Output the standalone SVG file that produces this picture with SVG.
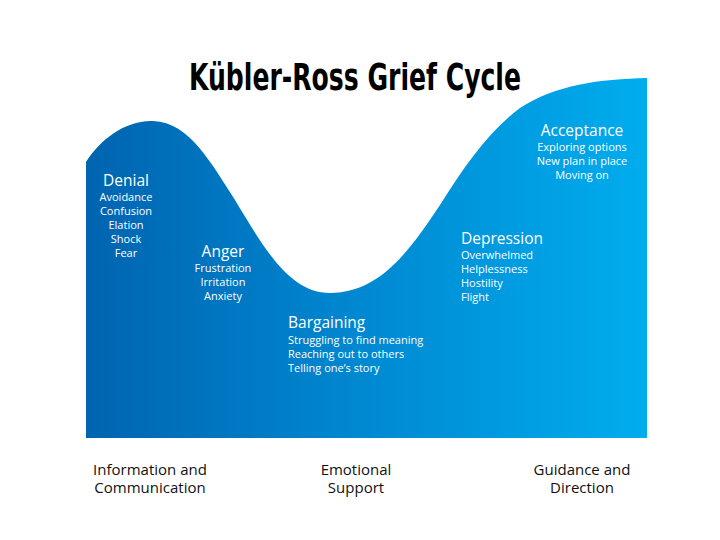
<svg xmlns="http://www.w3.org/2000/svg" width="720" height="540" viewBox="0 0 720 540">
<defs>
<linearGradient id="g" x1="86" y1="0" x2="647" y2="0" gradientUnits="userSpaceOnUse">
<stop offset="0" stop-color="#0064B0"/>
<stop offset="0.5" stop-color="#0089D2"/>
<stop offset="1" stop-color="#00ADEE"/>
</linearGradient>
<style>
.t{font-family:"Open Sans","Noto Sans",sans-serif;fill:#fff}
.h{font-size:15.5px}
.s{font-size:11px}
.b{font-family:"Open Sans","Noto Sans",sans-serif;fill:#111;font-size:15px}
.c{text-anchor:middle}
</style>
</defs>
<rect width="720" height="540" fill="#fff"/>
<text x="355" y="90" text-anchor="middle" font-family="'DejaVu Sans','Liberation Sans',sans-serif" font-weight="bold" font-stretch="condensed" font-size="38" fill="#000" textLength="332" lengthAdjust="spacingAndGlyphs">Kübler-Ross Grief Cycle</text>
<g id="curve">
<path d="M86,438 L86,162 C100,140 125,120 153,121 C190,122 212,165 235,200 C265,250 290,293 330,293 C380,293 410,250 440,205 C465,165 490,130 520,108 C555,85 600,79 647,78 L647,438 Z" fill="url(#g)"/>
</g>
<g id="denial" class="t c">
<text x="126" y="186" class="h">Denial</text>
<text x="126" y="201" class="s">Avoidance</text>
<text x="126" y="215" class="s">Confusion</text>
<text x="126" y="229" class="s">Elation</text>
<text x="126" y="243" class="s">Shock</text>
<text x="126" y="257" class="s">Fear</text>
</g>
<g id="anger" class="t c">
<text x="223" y="257" class="h">Anger</text>
<text x="223" y="272" class="s">Frustration</text>
<text x="223" y="286" class="s">Irritation</text>
<text x="223" y="300" class="s">Anxiety</text>
</g>
<g id="bargaining" class="t">
<text x="288" y="328" class="h">Bargaining</text>
<text x="288" y="344" class="s">Struggling to find meaning</text>
<text x="288" y="358" class="s">Reaching out to others</text>
<text x="288" y="372" class="s">Telling one’s story</text>
</g>
<g id="depression" class="t">
<text x="461" y="244" class="h">Depression</text>
<text x="461" y="259" class="s">Overwhelmed</text>
<text x="461" y="273" class="s">Helplessness</text>
<text x="461" y="287" class="s">Hostility</text>
<text x="461" y="301" class="s">Flight</text>
</g>
<g id="acceptance" class="t c">
<text x="582" y="136" class="h">Acceptance</text>
<text x="582" y="151" class="s">Exploring options</text>
<text x="582" y="165" class="s">New plan in place</text>
<text x="582" y="179" class="s">Moving on</text>
</g>
<g id="labels" class="b c">
<text x="150" y="475">Information and</text>
<text x="150" y="493">Communication</text>
<text x="356" y="475">Emotional</text>
<text x="356" y="493">Support</text>
<text x="582" y="475">Guidance and</text>
<text x="582" y="493">Direction</text>
</g>
</svg>
